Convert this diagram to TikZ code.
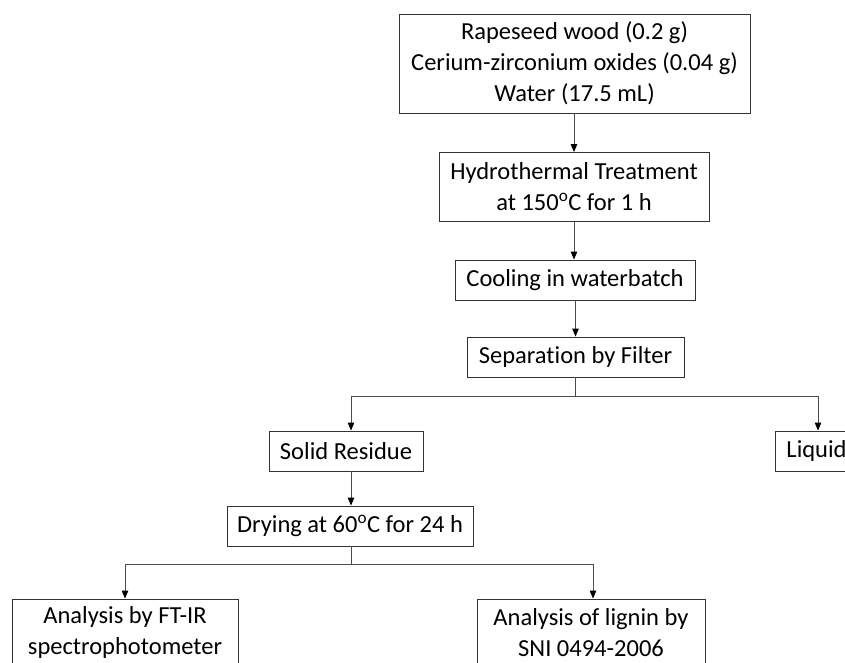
\documentclass[tikz,border=0pt]{standalone}
\usepackage{fontspec}
\setmainfont{Carlito}[Ligatures=NoCommon]
\usetikzlibrary{arrows.meta}
\begin{document}
\begin{tikzpicture}[x=1pt,y=-1pt,
  box/.style={draw=black!80,line width=0.9pt,rectangle,inner sep=0pt,align=center,font=\fontsize{24.5}{31}\selectfont},
  conn/.style={draw=black!70,line width=0.9pt},
  arr/.style={conn,-{Triangle[length=8pt,width=6.5pt,color=black,fill=black]}}]
\useasboundingbox (0,0) rectangle (845,663);
\clip (0,0) rectangle (845,663);
\node[box,minimum width=351pt,minimum height=99pt] (b1) at (574.5,63.5) {Rapeseed wood (0.2 g)\\Cerium-zirconium oxides (0.04 g)\\Water (17.5 mL)};
\node[box,minimum width=270pt,minimum height=69pt] (b2) at (574,187) {Hydrothermal Treatment\\at 150\textsuperscript{o}C for 1 h};
\node[box,minimum width=240pt,minimum height=40pt] (b3) at (575,280) {Cooling in waterbatch};
\node[box,minimum width=217pt,minimum height=40pt] (b4) at (575.5,357) {Separation by Filter};
\node[box,minimum width=154pt,minimum height=40pt] (solid) at (346,451) {Solid Residue};
\node[box,anchor=west,minimum height=40pt,inner xsep=11pt,text width=80pt,align=left] (liquid) at (775,451) {Liquid};
\node[box,minimum width=246pt,minimum height=40pt] (dry) at (350,526) {Drying at 60\textsuperscript{o}C for 24 h};
\node[box,minimum width=226pt,minimum height=67pt] (ftir) at (125,632.5) {Analysis by FT-IR\\spectrophotometer};
\node[box,minimum width=228pt,minimum height=67pt] (lig) at (591,632.5) {Analysis of lignin by\\SNI 0494-2006};
\coordinate (j1) at (575.5,396);
\coordinate (j1l) at (351,396);
\coordinate (j1r) at (818,396);
\coordinate (j2) at (351,564);
\coordinate (j2l) at (125,564);
\coordinate (j2r) at (593,564);
\draw[arr] (b2.north |- b1.south) -- (b2.north);
\draw[arr] (b2.south) -- (b3.north -| b2.south);
\draw[arr] (b4.north |- b3.south) -- (b4.north);
\draw[conn] (b4.south) -- (j1);
\draw[conn] (j1l) -- (j1r);
\draw[arr] (j1l) -- (j1l |- solid.north);
\draw[arr] (j1r) -- (j1r |- liquid.north);
\draw[arr] (j1l |- solid.south) -- (j1l |- dry.north);
\draw[conn] (j2 |- dry.south) -- (j2);
\draw[conn] (j2l) -- (j2r);
\draw[arr] (j2l) -- (j2l |- ftir.north);
\draw[arr] (j2r) -- (j2r |- lig.north);
\end{tikzpicture}
\end{document}
